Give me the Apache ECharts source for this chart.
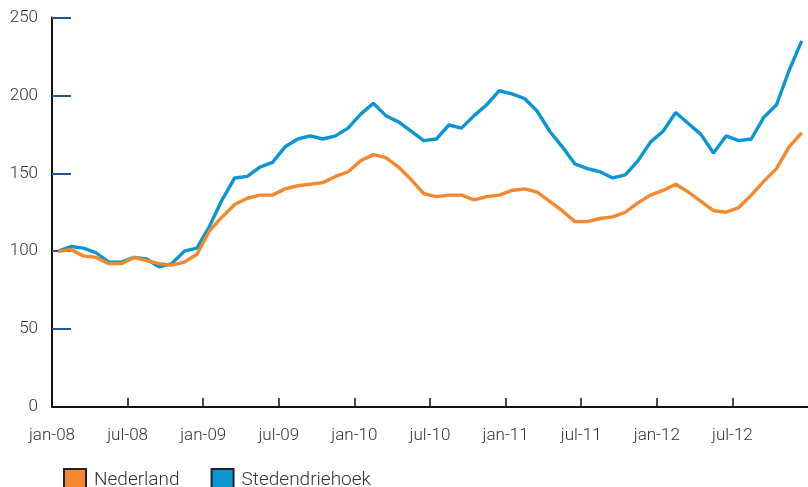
<!DOCTYPE html>
<html>
<head>
<meta charset="utf-8">
<script src="https://cdn.jsdelivr.net/npm/echarts@6/dist/echarts.min.js"></script>
<style>
  html, body { margin: 0; padding: 0; background: #fff; }
  #chart { width: 808px; height: 487px; }
</style>
</head>
<body>
<div id="chart"></div>
<script>
// monthly index, jan-08 = 100 (jan-08 .. dec-12)
const tickLabels = ["jan-08", "jul-08", "jan-09", "jul-09", "jan-10", "jul-10", "jan-11", "jul-11", "jan-12", "jul-12"];

const nederland = [
  100, 101, 97, 96, 92, 92, 96, 94, 92, 91,
  93, 98, 113, 122, 130, 134, 136, 136, 140, 142,
  143, 144, 148, 151, 158, 162, 160, 154, 146, 137,
  135, 136, 136, 133, 135, 136, 139, 140, 138, 132,
  126, 119, 119, 121, 122, 125, 131, 136, 139, 143,
  138, 132, 126, 125, 128, 136, 145, 153, 167, 176
];

const stedendriehoek = [
  100, 103, 102, 99, 93, 93, 96, 95, 90, 92,
  100, 102, 116, 133, 147, 148, 154, 157, 167, 172,
  174, 172, 174, 179, 188, 195, 187, 183, 177, 171,
  172, 181, 179, 187, 194, 203, 201, 198, 190, 177,
  167, 156, 153, 151, 147, 149, 158, 170, 177, 189,
  182, 175, 163, 174, 171, 172, 186, 194, 216, 235
];

const ORANGE = "#f4882c";
const BLUE = "#0996d2";
const FONT = "Roboto";

// points sit in the middle of each month slot
const toPoints = (arr) => arr.map((v, i) => [i + 0.5, v]);

const chart = echarts.init(document.getElementById("chart"), null, { renderer: "canvas" });

chart.setOption({
  animation: false,
  grid: { left: 52, right: -3, top: 17.5, bottom: 80, containLabel: false },
  legend: {
    left: 58,
    top: 463,
    icon: "rect",
    itemWidth: 22,
    itemHeight: 22,
    itemGap: 31,
    textStyle: { fontFamily: FONT, fontWeight: 300, fontSize: 19, color: "#333", padding: [0, 0, 0, 3] },
    data: ["Nederland", "Stedendriehoek"],
  },
  xAxis: {
    type: "value",
    min: 0,
    max: 60,
    interval: 6,
    z: 5,
    axisLine: { lineStyle: { color: "#111", width: 2 } },
    axisTick: { inside: true, length: 9, lineStyle: { color: "#111", width: 1.5 } },
    splitLine: { show: false },
    axisLabel: {
      margin: 20,
      fontFamily: FONT,
      fontWeight: 300,
      fontSize: 17,
      color: "#333",
      showMaxLabel: false,
      formatter: (v) => tickLabels[v / 6] || "",
    },
  },
  yAxis: {
    type: "value",
    min: 0,
    max: 250,
    interval: 50,
    axisLine: { show: true, lineStyle: { color: "#111", width: 2 } },
    axisTick: { show: true, inside: true, length: 19, lineStyle: { color: "#1f5596", width: 2 } },
    splitLine: { show: false },
    axisLabel: {
      margin: 14,
      fontFamily: FONT,
      fontWeight: 300,
      fontSize: 17,
      color: "#333",
    },
  },
  series: [
    {
      name: "Nederland",
      type: "line",
      z: 3,
      showSymbol: false,
      data: toPoints(nederland),
      lineStyle: { color: ORANGE, width: 3.4 },
      itemStyle: { color: ORANGE, borderColor: "#222", borderWidth: 1 },
    },
    {
      name: "Stedendriehoek",
      type: "line",
      z: 2,
      showSymbol: false,
      data: toPoints(stedendriehoek),
      lineStyle: { color: BLUE, width: 3.4 },
      itemStyle: { color: BLUE, borderColor: "#222", borderWidth: 1 },
    },
  ],
});
</script>
</body>
</html>
